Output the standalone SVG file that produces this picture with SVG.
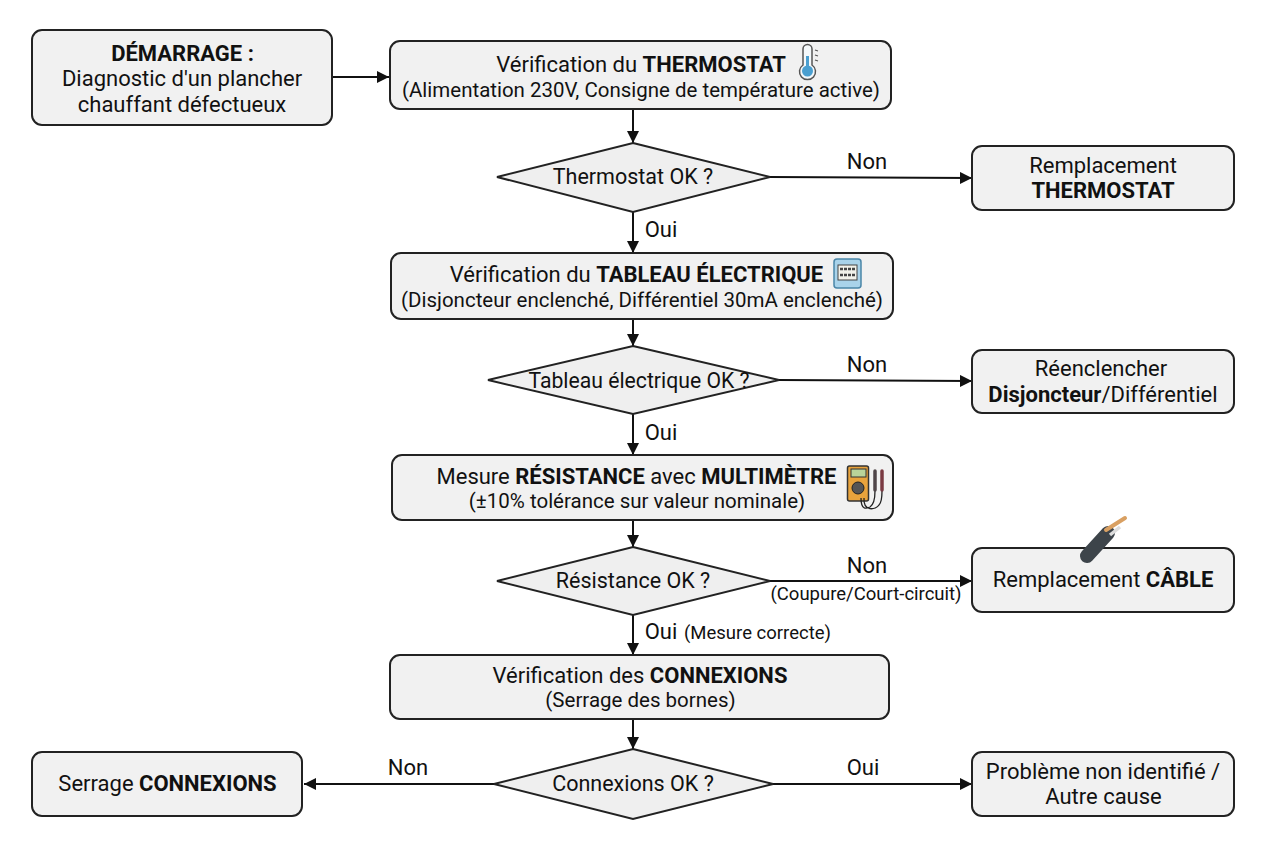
<svg xmlns="http://www.w3.org/2000/svg" width="1264" height="848" viewBox="0 0 1264 848">
<defs>
<marker id="arr" markerUnits="userSpaceOnUse" markerWidth="13" markerHeight="12" refX="12" refY="6" orient="auto"><path d="M0 0L12 6L0 12Z" fill="#111"/></marker>
</defs>
<style>
.n{fill:#f1f1f1;stroke:#222;stroke-width:2}
.d{fill:#efefef;stroke:#222;stroke-width:2}
text{font-family:Roboto,"Liberation Sans",sans-serif;font-size:22px;fill:#111;text-anchor:middle}
.b{font-weight:700}
.s{font-size:18.500px}
.m{font-size:20.500px}
.q{font-size:21.500px}
.c{fill:none;stroke:#111;stroke-width:2;marker-end:url(#arr)}
</style>
<rect width="1264" height="848" fill="#fff"/>
<g id="connectors">
<path class="c" d="M332 77H389"/>
<path class="c" d="M633 110V143"/>
<path class="c" d="M770 177L972 178"/>
<path class="c" d="M633 212V253"/>
<path class="c" d="M633 319V346"/>
<path class="c" d="M779 380L972 381"/>
<path class="c" d="M633 414V455"/>
<path class="c" d="M633 520V547"/>
<path class="c" d="M770 581H972"/>
<path class="c" d="M633 615V655"/>
<path class="c" d="M633 719V749"/>
<path class="c" d="M494 784H304"/>
<path class="c" d="M773 784H972"/>
<text x="867" y="169">Non</text>
<text x="661" y="237">Oui</text>
<text x="867" y="372">Non</text>
<text x="661" y="440">Oui</text>
<text x="867" y="573">Non</text>
<text x="866" y="600" class="s">(Coupure/Court-circuit)</text>
<text x="661" y="639">Oui</text>
<text x="757.500" y="639" class="s">(Mesure correcte)</text>
<text x="408" y="775">Non</text>
<text x="863" y="775">Oui</text>
</g>
<g id="start">
<rect class="n" x="32" y="30" width="300" height="95" rx="10"/>
<text x="182.500" y="61" class="b">DÉMARRAGE :</text>
<text x="182" y="86">Diagnostic d'un plancher</text>
<text x="182" y="112">chauffant défectueux</text>
</g>
<g id="check-thermostat">
<rect class="n" x="390" y="41" width="501" height="68" rx="10"/>
<text x="641" y="72">Vérification du <tspan class="b">THERMOSTAT</tspan></text>
<text x="641" y="97" style="font-size:21px" textLength="478" lengthAdjust="spacingAndGlyphs">(Alimentation 230V, Consigne de température active)</text>
<path d="M803 49a4.500 4.500 0 0 1 9 0V65a8 8 0 1 1-9 0Z" fill="#f4f8fa" stroke="#555" stroke-width="1.500"/>
<circle cx="807.500" cy="71" r="5.500" fill="#4a9fd0"/>
<rect x="806" y="56" width="3" height="12" fill="#4a9fd0"/>
<path d="M815 50l3 1M815 55l3 1M815 60l3 1" stroke="#555" stroke-width="1.200"/>
</g>
<g id="dec-thermostat">
<polygon class="d" points="633,143 770,177 633,212 497,177"/>
<text x="633" y="184" class="q">Thermostat OK ?</text>
</g>
<g id="rep-thermostat">
<rect class="n" x="972" y="146" width="262" height="64" rx="10"/>
<text x="1103" y="173">Remplacement</text>
<text x="1103" y="198" class="b">THERMOSTAT</text>
</g>
<g id="check-tableau">
<rect class="n" x="391" y="253" width="502" height="66" rx="10"/>
<text x="636.500" y="282">Vérification du <tspan class="b">TABLEAU ÉLECTRIQUE</tspan></text>
<text x="642" y="307" style="font-size:21px" textLength="482" lengthAdjust="spacingAndGlyphs">(Disjoncteur enclenché, Différentiel 30mA enclenché)</text>
<rect x="834" y="259" width="27" height="29" rx="3" fill="#a9d3ea" stroke="#4a86a8" stroke-width="1.500"/>
<rect x="838" y="265" width="19" height="15" fill="#f2f2ea" stroke="#444"/>
<path d="M840 269h15M840 275h15" stroke="#444" stroke-width="2.500" stroke-dasharray="3 1"/>
</g>
<g id="dec-tableau">
<polygon class="d" points="633,346 779,380 633,414 488,380"/>
<text x="639" y="388" style="font-size:21.200px">Tableau électrique OK ?</text>
</g>
<g id="rep-tableau">
<rect class="n" x="972" y="350" width="262" height="63" rx="10"/>
<text x="1101" y="376">Réenclencher</text>
<text x="1103" y="402"><tspan class="b">Disjoncteur</tspan>/Différentiel</text>
</g>
<g id="check-resistance">
<rect class="n" x="392" y="455" width="501" height="65" rx="10"/>
<text x="636.500" y="484">Mesure <tspan class="b">RÉSISTANCE</tspan> avec <tspan class="b">MULTIMÈTRE</tspan></text>
<text x="637" y="508" class="m">(±10% tolérance sur valeur nominale)</text>
<rect x="847.500" y="466" width="21" height="35" rx="2" fill="#e8a33c" stroke="#333" stroke-width="1.500"/>
<rect x="851" y="469" width="15" height="8" fill="#b9d39a" stroke="#333"/>
<circle cx="858" cy="488" r="6" fill="#555" stroke="#222"/>
<path d="M861 498c0 12 5 11 9 9c3-2 5-6 5-16M864 498c-1 14 12 12 15 7c3-3 3-8 3-14" fill="none" stroke="#222" stroke-width="1.300"/>
<path d="M875 490V471" stroke="#4f4548" stroke-width="3.500" stroke-linecap="round"/>
<path d="M882 490V471" stroke="#7a3a42" stroke-width="3.500" stroke-linecap="round"/>
</g>
<g id="dec-resistance">
<polygon class="d" points="633,547 770,581 633,615 497,581"/>
<text x="633" y="588" class="q">Résistance OK ?</text>
</g>
<g id="rep-cable">
<rect class="n" x="972" y="548" width="262" height="64" rx="10"/>
<text x="1103" y="587">Remplacement <tspan class="b">CÂBLE</tspan></text>
<path d="M1087 556L1108 533" stroke="#3d444a" stroke-width="14" stroke-linecap="round"/>
<path d="M1106 530L1125 518" stroke="#d9a062" stroke-width="4" stroke-linecap="round"/>
<path d="M1110 535L1120 527" stroke="#ddd" stroke-width="3.500"/>
</g>
<g id="check-connexions">
<rect class="n" x="390" y="655" width="499" height="64" rx="10"/>
<text x="640" y="683">Vérification des <tspan class="b">CONNEXIONS</tspan></text>
<text x="640.500" y="707" class="m">(Serrage des bornes)</text>
</g>
<g id="dec-connexions">
<polygon class="d" points="633,749 773,784 633,819 494,784"/>
<text x="633" y="791" class="q">Connexions OK ?</text>
</g>
<g id="serrage">
<rect class="n" x="32" y="752" width="270" height="64" rx="10"/>
<text x="167.500" y="791">Serrage <tspan class="b">CONNEXIONS</tspan></text>
</g>
<g id="autre">
<rect class="n" x="972" y="752" width="262" height="64" rx="10"/>
<text x="1103" y="779">Problème non identifié /</text>
<text x="1103.500" y="804">Autre cause</text>
</g>
</svg>
